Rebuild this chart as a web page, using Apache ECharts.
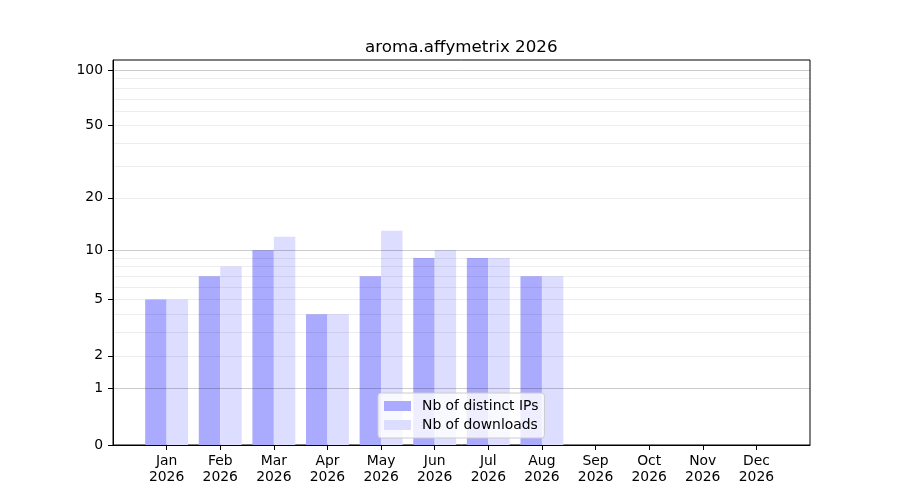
<!DOCTYPE html>
<html>
<head>
<meta charset="utf-8">
<script src="https://cdn.jsdelivr.net/npm/echarts@6/dist/echarts.min.js"></script>
<style>
  html, body { margin: 0; padding: 0; background: #fff; }
  #chart { width: 900px; height: 500px; }
</style>
</head>
<body>
<div id="chart"></div>
<script>
// Monthly stats, year 2026
const months = ['Jan', 'Feb', 'Mar', 'Apr', 'May', 'Jun', 'Jul', 'Aug', 'Sep', 'Oct', 'Nov', 'Dec'];
const year = '2026';
const distinctIPs = [5, 7, 10, 4, 7, 9, 9, 7];
const downloads = [5, 8, 12, 4, 13, 10, 9, 7];

// y axis ticks (symlog-like: log10(1 + v))
const labelTicks = [0, 1, 2, 5, 10, 20, 50, 100];
const majorGrid = [1, 10, 100];
const minorGrid = [2, 3, 4, 5, 6, 7, 8, 9, 20, 30, 40, 50, 60, 70, 80, 90];

const fwd = v => Math.log10(1 + v);
const inv = t => Math.round(Math.pow(10, t) - 1);
const yMax = 2.059;

// empty slot on each side gives the one-month margin seen in the picture
const xData = [''].concat(months.map(m => m + '\n' + year), ['']);
const pad = arr => {
    const out = [null];
    for (let i = 0; i < months.length; i++) {
        out.push(i < arr.length ? fwd(arr[i]) : null);
    }
    out.push(null);
    return out;
};

const font = '"DejaVu Sans", sans-serif';
const chart = echarts.init(document.getElementById('chart'));

const hiddenAxis = (values, color) => ({
    type: 'value',
    position: 'left',
    min: 0,
    max: yMax,
    z: 3,
    axisLine: { show: false },
    axisTick: { show: false, customValues: values.map(fwd) },
    axisLabel: { show: false },
    splitLine: { show: true, lineStyle: { color: color, width: 1 } }
});

chart.setOption({
    animation: false,
    title: {
        text: 'aroma.affymetrix ' + year,
        left: 360,
        top: 34,
        textStyle: { fontFamily: font, fontSize: 16.7, fontWeight: 'normal', color: '#000' }
    },
    grid: {
        left: 113, right: 90, top: 60, bottom: 55,
        show: true, borderColor: '#000', borderWidth: 1, backgroundColor: 'transparent'
    },
    legend: {
        orient: 'vertical',
        left: 378,
        top: 393,
        z: 10,
        icon: 'rect',
        itemWidth: 27,
        itemHeight: 10,
        itemGap: 5,
        padding: [6, 6, 6, 6],
        backgroundColor: 'rgba(255,255,255,0.8)',
        borderColor: '#cccccc',
        borderWidth: 1,
        borderRadius: 3,
        textStyle: { fontFamily: font, fontSize: 13.9, color: '#000', padding: [0, 0, 0, 6] },
        data: ['Nb of distinct IPs', 'Nb of downloads']
    },
    xAxis: {
        type: 'category',
        data: xData,
        boundaryGap: false,
        axisLine: { lineStyle: { color: '#000', width: 1 } },
        axisTick: {
            length: 5,
            interval: i => i > 0 && i < xData.length - 1,
            lineStyle: { color: '#000' }
        },
        axisLabel: {
            interval: 0,
            margin: 8,
            color: '#000',
            fontFamily: font,
            fontSize: 13.9,
            lineHeight: 16
        },
        splitLine: { show: false }
    },
    yAxis: [
        {
            type: 'value',
            position: 'left',
            min: 0,
            max: yMax,
            axisLine: { show: true, lineStyle: { color: '#000', width: 1 } },
            axisTick: { show: true, length: 5, customValues: labelTicks.map(fwd), lineStyle: { color: '#000' } },
            axisLabel: {
                customValues: labelTicks.map(fwd),
                formatter: v => String(inv(v)),
                margin: 10,
                color: '#000',
                fontFamily: font,
                fontSize: 13.9
            },
            splitLine: { show: false }
        },
        hiddenAxis(majorGrid, 'rgba(0,0,0,0.2)'),
        hiddenAxis(minorGrid, 'rgba(0,0,0,0.07)')
    ],
    series: [
        {
            name: 'Nb of distinct IPs',
            type: 'bar',
            data: pad(distinctIPs),
            barWidth: '40%',
            barGap: '0%',
            itemStyle: { color: '#aaaaff' }
        },
        {
            name: 'Nb of downloads',
            type: 'bar',
            data: pad(downloads),
            barWidth: '40%',
            barGap: '0%',
            itemStyle: { color: '#ddddff' }
        }
    ]
});
</script>
</body>
</html>
